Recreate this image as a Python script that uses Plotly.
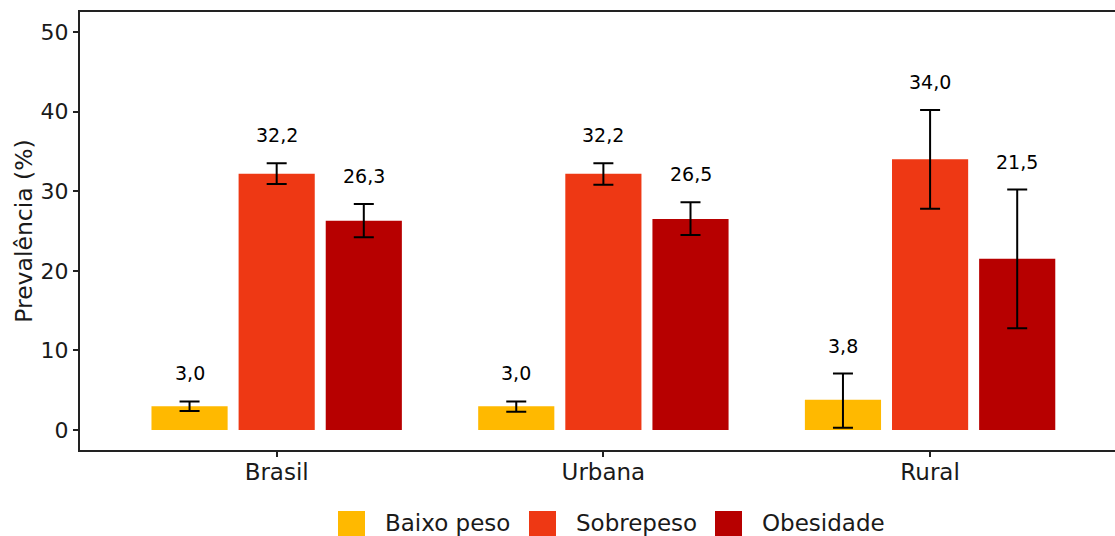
import plotly.graph_objects as go

# Prevalence of nutritional status by area
areas = ["Brasil", "Urbana", "Rural"]
series = ["Baixo peso", "Sobrepeso", "Obesidade"]
colors = ["#FFB900", "#EE3814", "#B70000"]

prev_baixo = [3.0, 3.0, 3.8]
prev_sobre = [32.2, 32.2, 34.0]
prev_obes = [26.3, 26.5, 21.5]

low_baixo = [2.4, 2.3, 0.3]
high_baixo = [3.6, 3.6, 7.1]
low_sobre = [30.9, 30.8, 27.8]
high_sobre = [33.5, 33.5, 40.2]
low_obes = [24.2, 24.5, 12.8]
high_obes = [28.4, 28.6, 30.2]

values = [prev_baixo, prev_sobre, prev_obes]
lows = [low_baixo, low_sobre, low_obes]
highs = [high_baixo, high_sobre, high_obes]

W, H = 1115, 536
ML, MR, MT, MB = 80, 0, 12, 86
BARGAP, BARGROUPGAP = 0.2, 0.126
FONT = "DejaVu Sans"
INK = "#1a1a1a"
LINE = "#222222"

fig = go.Figure()
for name, col, val, lo, hi in zip(series, colors, values, lows, highs):
    fig.add_trace(go.Bar(
        name=name, x=areas, y=val, marker_color=col,
        marker_line_width=0, showlegend=False,
        error_y=dict(type="data", symmetric=False,
                     array=[h - v for h, v in zip(hi, val)],
                     arrayminus=[v - l for v, l in zip(val, lo)],
                     color="black", thickness=2, width=10),
    ))

# value labels above the upper whisker
slot = (1 - BARGAP) / len(series)
annotations = []
for j, (val, hi) in enumerate(zip(values, highs)):
    for i, (v, h) in enumerate(zip(val, hi)):
        annotations.append(dict(
            x=i + (j - (len(series) - 1) / 2) * slot, y=h,
            xref="x", yref="y", yshift=28, showarrow=False,
            text=f"{v:.1f}".replace(".", ","),
            font=dict(family=FONT, size=19, color="black"),
            xanchor="center", yanchor="middle",
        ))

# legend drawn below the panel
plot_w = W - ML - MR
plot_h = H - MT - MB
def px_x(p):
    return (p - ML) / plot_w
def px_y(p):
    return (H - MB - p) / plot_h

key_left = [338, 529, 715]
key_size = 27
key_top = 511
text_gap = 18
shapes = []
for name, col, kx in zip(series, colors, key_left):
    shapes.append(dict(type="rect", xref="paper", yref="paper",
                       x0=px_x(kx), x1=px_x(kx + key_size),
                       y0=px_y(key_top), y1=px_y(key_top + key_size),
                       fillcolor=col, line=dict(width=0), layer="above"))
    annotations.append(dict(
        x=px_x(kx + key_size + text_gap), y=px_y(key_top + 12),
        xref="paper", yref="paper", showarrow=False, text=name,
        xanchor="left", yanchor="middle",
        font=dict(family=FONT, size=23, color=INK),
    ))

fig.update_layout(
    width=W, height=H, autosize=False,
    margin=dict(l=ML, r=MR, t=MT, b=MB, pad=0),
    paper_bgcolor="white", plot_bgcolor="white",
    barmode="group", bargap=BARGAP, bargroupgap=BARGROUPGAP,
    font=dict(family=FONT, color=INK),
    annotations=annotations, shapes=shapes,
    showlegend=False,
    xaxis=dict(
        type="category", range=[-0.602, 2.566],
        showline=True, linecolor=LINE, linewidth=2, mirror=True,
        ticks="outside", ticklen=5, tickwidth=1.5, tickcolor=LINE,
        ticklabelstandoff=-5,
        showgrid=False, zeroline=False,
        tickfont=dict(family=FONT, size=23, color=INK),
    ),
    yaxis=dict(
        range=[-2.5, 52.5], tickvals=[0, 10, 20, 30, 40, 50],
        showline=True, linecolor=LINE, linewidth=2,
        ticks="outside", ticklen=5, tickwidth=1.5, tickcolor=LINE,
        showgrid=False, zeroline=False,
        tickfont=dict(family=FONT, size=22, color=INK),
        title=dict(text="Prevalência (%)", standoff=1,
                   font=dict(family=FONT, size=23.5, color=INK)),
    ),
)

fig.write_html("out.html")
